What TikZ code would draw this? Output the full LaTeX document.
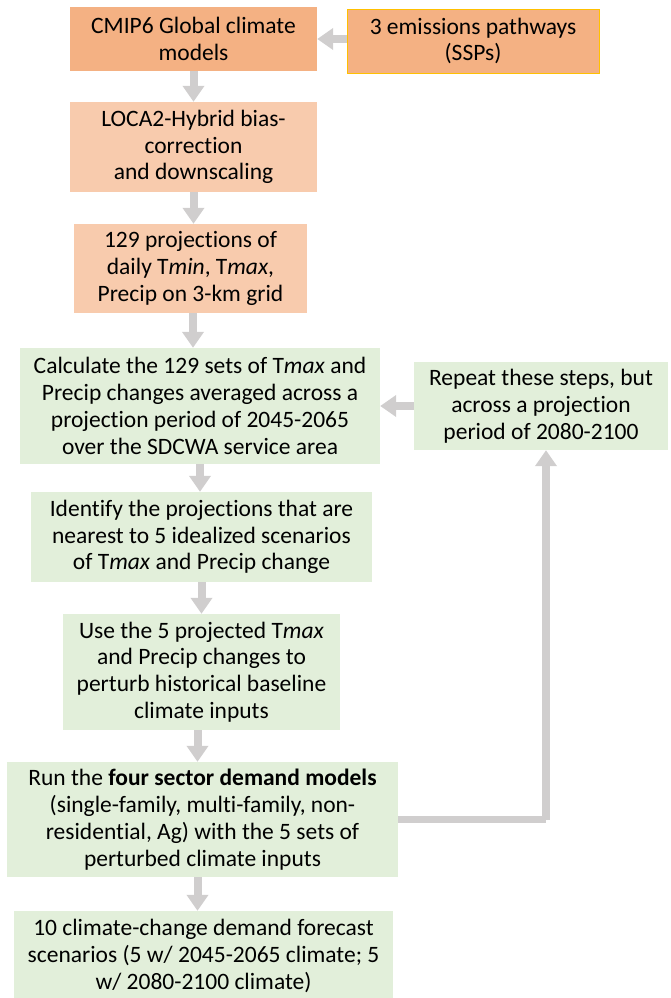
\documentclass[tikz,border=0pt]{standalone}
\usepackage{fontspec}
\setmainfont{Carlito}[Ligatures=NoCommon]
\usetikzlibrary{arrows.meta}
\definecolor{orangedark}{HTML}{F4B183}
\definecolor{orangelight}{HTML}{F8CBAD}
\definecolor{greenlight}{HTML}{E2EFDA}
\definecolor{arrowgray}{HTML}{D0CECE}
\definecolor{gold}{HTML}{FFC000}
\begin{document}
\begin{tikzpicture}[x=1pt, y=-1pt,
  box/.style={inner sep=0pt, align=center, font=\fontsize{23.5}{26.8}\selectfont},
  flow/.style={draw=arrowgray, line width=8pt, -{Triangle[width=21pt, length=16pt]}},
  loopline/.style={draw=arrowgray, line width=7pt}]
\useasboundingbox (0,0) rectangle (670,998);
\node[box, fill=orangedark, minimum width=247pt, minimum height=64pt] (cmip) at (193.5,39) {CMIP6 Global climate\\models};
\node[box, fill=orangedark, draw=gold, line width=0.8pt, minimum width=252pt, minimum height=64pt] (ssp) at (473,41) {3 emissions pathways\\(SSPs)};
\node[box, fill=orangelight, minimum width=247pt, minimum height=90pt] (loca) at (193.5,147) {LOCA2-Hybrid bias-\\correction\\and downscaling};
\node[box, fill=orangelight, minimum width=233pt, minimum height=89pt] (proj) at (190.5,268.5) {129 projections of\\daily T\textit{min}, T\textit{max},\\Precip on 3-km grid};
\node[box, fill=greenlight, minimum width=360pt, minimum height=116pt] (calc) at (200,406) {Calculate the 129 sets of T\textit{max} and\\Precip changes averaged across a\\projection period of 2045-2065\\over the SDCWA service area};
\node[box, fill=greenlight, minimum width=254pt, minimum height=88pt] (rep) at (541,406) {Repeat these steps, but\\across a projection\\period of 2080-2100};
\node[box, fill=greenlight, minimum width=341pt, minimum height=90pt] (ident) at (201.5,537) {Identify the projections that are\\nearest to 5 idealized scenarios\\of T\textit{max} and Precip change};
\node[box, fill=greenlight, minimum width=277pt, minimum height=116pt] (use) at (201.5,672) {Use the 5 projected T\textit{max}\\and Precip changes to\\perturb historical baseline\\climate inputs};
\node[box, fill=greenlight, minimum width=391pt, minimum height=115pt] (run) at (202.5,819.5) {Run the \textbf{four sector demand models}\\(single-family, multi-family, non-\\residential, Ag) with the 5 sets of\\perturbed climate inputs};
\node[box, fill=greenlight, minimum width=379pt, minimum height=90pt] (ten) at (203.5,956) {10 climate-change demand forecast\\scenarios (5 w/ 2045-2065 climate; 5\\w/ 2080-2100 climate)};
\draw[flow] (ssp.west |- cmip) -- (cmip.east);
\draw[flow] (rep.west) -- (calc.east);
\draw[flow] (cmip.south) -- (cmip.south |- loca.north);
\draw[flow] (loca.south) -- (loca.south |- proj.north);
\draw[flow] ([xshift=2.5pt]proj.south) -- ([xshift=2.5pt]proj.south |- calc.north);
\draw[flow] (calc.south) -- (calc.south |- ident.north);
\draw[flow] (ident.south) -- (ident.south |- use.north);
\draw[flow] ([xshift=-4pt]use.south) -- ([xshift=-4pt]use.south |- run.north);
\draw[flow] ([xshift=-5pt]run.south) -- ([xshift=-5pt]run.south |- ten.north);
\coordinate (turn) at (546,819.5);
\draw[loopline] (run.east) -- (turn);
\draw[flow] (turn) -- (turn |- rep.south);
\end{tikzpicture}
\end{document}
